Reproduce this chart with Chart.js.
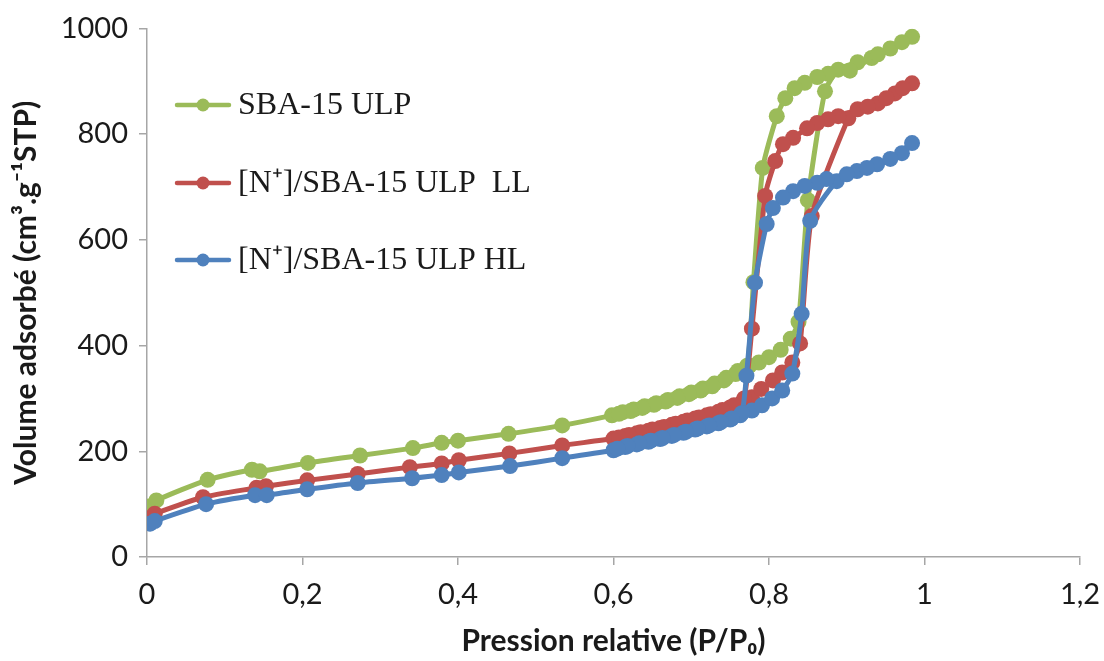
<!DOCTYPE html>
<html>
<head>
<meta charset="utf-8">
<script src="https://cdn.jsdelivr.net/npm/chart.js@4.4.1/dist/chart.umd.min.js"></script>
<style>
  html, body { margin: 0; padding: 0; background: #fff; }
  #wrap { width: 1104px; height: 661px; }
</style>
</head>
<body>
<div id="wrap"><canvas id="iso" width="1104" height="661"></canvas></div>
<script>
// N2 sorption isotherms, adsorption branch then desorption branch (P/P0, cm3/g STP)

const sbaX = [0.004, 0.012, 0.078, 0.135, 0.145, 0.207, 0.274, 0.342, 0.379, 0.400, 0.465, 0.534,
  0.598, 0.612, 0.626, 0.640, 0.655, 0.670, 0.685, 0.700, 0.715, 0.730, 0.745, 0.760, 0.775,
  0.787, 0.800, 0.815, 0.828, 0.838, 0.850, 0.872, 0.889, 0.914, 0.932, 0.956, 0.984,
  0.971, 0.940, 0.904, 0.876, 0.862, 0.846, 0.833, 0.821, 0.810, 0.792, 0.780, 0.772,
  0.757, 0.742, 0.727, 0.712, 0.697, 0.682, 0.667, 0.652, 0.637, 0.622, 0.607];
const sbaY = [96, 107, 146, 165, 162, 178, 192, 206, 216, 220, 233, 249,
  268, 274, 279, 285, 291, 297, 304, 311, 319, 328, 339, 352, 362,
  368, 378, 392, 413, 445, 675, 881, 922, 936, 944, 962, 984,
  974, 951, 920, 914, 908, 897, 887, 868, 834, 736, 520, 362,
  346, 334, 323, 315, 308, 301, 294, 288, 282, 276, 271];

const llX = [0.004, 0.010, 0.072, 0.141, 0.153, 0.206, 0.271, 0.338, 0.379, 0.401, 0.466, 0.534,
  0.600, 0.615, 0.630, 0.645, 0.660, 0.675, 0.690, 0.705, 0.720, 0.735, 0.750, 0.765, 0.778,
  0.790, 0.805, 0.817, 0.830, 0.840, 0.855, 0.902, 0.914, 0.940, 0.962, 0.984,
  0.972, 0.951, 0.927, 0.889, 0.876, 0.862, 0.849, 0.831, 0.818, 0.808, 0.795, 0.778, 0.768,
  0.755, 0.740, 0.725, 0.710, 0.695, 0.680, 0.665, 0.650, 0.635, 0.620, 0.607];
const llY = [74, 82, 113, 131, 134, 145, 157, 170, 177, 183, 196, 211,
  224, 229, 234, 239, 244, 250, 256, 262, 268, 275, 283, 292, 302,
  318, 334, 349, 368, 404, 645, 830, 847, 858, 877, 896,
  887, 868, 852, 834, 828, 821, 811, 793, 781, 749, 683, 432, 300,
  287, 278, 270, 264, 258, 252, 246, 241, 236, 231, 226];

const hlX = [0.004, 0.010, 0.076, 0.139, 0.154, 0.206, 0.271, 0.341, 0.379, 0.401, 0.467, 0.534,
  0.600, 0.615, 0.630, 0.645, 0.660, 0.675, 0.690, 0.705, 0.720, 0.735, 0.750, 0.763, 0.778,
  0.791, 0.804, 0.817, 0.830, 0.842, 0.853, 0.887, 0.913, 0.939, 0.971, 0.984,
  0.956, 0.926, 0.900, 0.874, 0.862, 0.846, 0.831, 0.818, 0.805, 0.797, 0.782, 0.771, 0.765,
  0.752, 0.738, 0.723, 0.708, 0.693, 0.678, 0.663, 0.648, 0.633, 0.618, 0.605];
const hlY = [63, 68, 100, 117, 117, 128, 140, 149, 155, 160, 172, 187,
  202, 208, 213, 218, 223, 229, 235, 241, 247, 253, 260, 268, 277,
  287, 300, 315, 347, 460, 636, 711, 730, 743, 764, 783,
  753, 736, 724, 715, 708, 702, 692, 680, 660, 630, 519, 343, 272,
  262, 255, 249, 243, 237, 231, 225, 220, 215, 210, 205];

const seriesNames = ['SBA-15 ULP', '[N\u207A]/SBA-15 ULP  LL', '[N\u207A]/SBA-15 ULP HL'];
const seriesColors = ['#9BBB59', '#C0504D', '#4F81BD'];

const AXIS = '#a6a6a6';
const FONT = 'Lato, "Open Sans", sans-serif';

function toPoints(xs, ys) {
  return xs.map((x, i) => ({ x, y: ys[i] }));
}

function makeSet(i, xs, ys) {
  return {
    label: seriesNames[i],
    data: toPoints(xs, ys),
    borderColor: seriesColors[i],
    backgroundColor: seriesColors[i],
    pointBackgroundColor: seriesColors[i],
    pointBorderColor: seriesColors[i],
    borderWidth: 5,
    pointRadius: 8,
    pointBorderWidth: 0,
    showLine: true,
    tension: 0.2,
    order: 3 - i,
  };
}

// legend drawn inside the plot, Excel style
const insideLegend = {
  id: 'insideLegend',
  afterDraw(chart) {
    const ctx = chart.ctx;
    const rows = [105, 183, 260];
    ctx.save();
    chart.data.datasets.forEach((ds, i) => {
      const y = rows[i];
      ctx.strokeStyle = ds.borderColor;
      ctx.lineWidth = 4.5;
      ctx.lineCap = 'round';
      ctx.beginPath();
      ctx.moveTo(177, y);
      ctx.lineTo(229, y);
      ctx.stroke();
      ctx.fillStyle = ds.borderColor;
      ctx.beginPath();
      ctx.arc(203, y, 6.5, 0, Math.PI * 2);
      ctx.fill();
      ctx.fillStyle = '#1a1a1a';
      ctx.font = '32px "Liberation Serif", "Times New Roman", serif';
      ctx.textBaseline = 'middle';
      ctx.textAlign = 'left';
      ctx.fillText(ds.label, 238, y + 1);
    });
    ctx.restore();
  },
};

new Chart(document.getElementById('iso'), {
  type: 'scatter',
  data: {
    datasets: [
      makeSet(0, sbaX, sbaY),
      makeSet(1, llX, llY),
      makeSet(2, hlX, hlY),
    ],
  },
  options: {
    responsive: false,
    animation: false,
    devicePixelRatio: 1,
    layout: { padding: { top: 27, right: 24, left: 0, bottom: 0 } },
    plugins: {
      legend: { display: false },
      tooltip: { enabled: false },
    },
    scales: {
      x: {
        type: 'linear',
        min: 0,
        max: 1.2,
        afterFit: s => { s.height = 104; s.paddingRight = 0; s.paddingLeft = 0; },
        border: { display: true, color: AXIS, width: 1.5 },
        grid: { display: true, drawOnChartArea: false, drawTicks: true, tickLength: 8, color: AXIS, lineWidth: 1.5 },
        ticks: {
          stepSize: 0.2,
          padding: 12,
          color: '#1a1a1a',
          font: { family: FONT, size: 29 },
          callback: v => String(Math.round(v * 10) / 10).replace('.', ','),
        },
        title: {
          display: true,
          text: 'Pression relative (P/P\u2080)',
          color: '#1a1a1a',
          font: { family: FONT, size: 30, weight: 'bold' },
          padding: { top: 0, bottom: 2 },
        },
      },
      y: {
        type: 'linear',
        min: 0,
        max: 1000,
        afterFit: s => { s.width = 147; },
        border: { display: true, color: AXIS, width: 1.5 },
        grid: { display: true, drawOnChartArea: false, drawTicks: true, tickLength: 8, color: AXIS, lineWidth: 1.5 },
        ticks: {
          stepSize: 200,
          padding: 11,
          color: '#1a1a1a',
          font: { family: FONT, size: 29 },
          callback: v => String(v),
        },
        title: {
          display: true,
          text: 'Volume adsorbé (cm\u00B3.g\u207B\u00B9STP)',
          color: '#1a1a1a',
          font: { family: FONT, size: 30, weight: 'bold' },
          padding: { top: 8, bottom: 0 },
        },
      },
    },
  },
  plugins: [insideLegend],
});
</script>
</body>
</html>
